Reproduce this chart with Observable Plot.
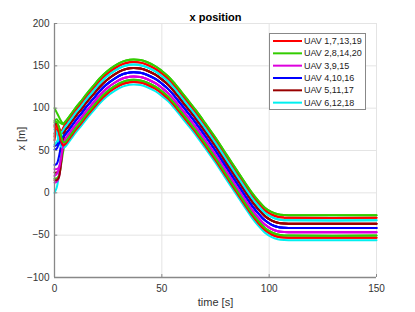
<!DOCTYPE html>
<html><head><meta charset="utf-8">
<script src="https://cdn.jsdelivr.net/npm/d3@7"></script>
<script src="https://cdn.jsdelivr.net/npm/@observablehq/plot@0.6"></script>
<style>
body{margin:0;background:#fff;font-family:"Liberation Sans",Arial,sans-serif}
#wrap{position:relative;width:415px;height:312px}
#legend{position:absolute;left:269px;top:33px}
</style>
</head><body><div id="wrap"></div>
<script>
// Legend groups and colours
const groups = ["UAV 1,7,13,19","UAV 2,8,14,20","UAV 3,9,15","UAV 4,10,16","UAV 5,11,17","UAV 6,12,18"];
const colors = ["#ff0000","#33cc00","#dd00dd","#0000ff","#990000","#00f0f0"];
// Ticks
const xTicks = [0,50,100,150];
const yTicks = [-100,-50,0,50,100,150,200];
// Shared trajectory (top line), t >= 5 s
const times = [5,6,8,10,12,15,18,21,24,28,32,35,37,40,43,47,50,53,56,59,62,66,70,75,79,83,86,89,92,95,98,101,104,107,110,150];
const base  = [84,87,94,101,107,117,126,135,142.5,150,155.3,157.2,157.5,156.8,154.5,149.5,144,137.5,129,119.5,110,97,83,65,49.5,34,22.5,11,0,-9.5,-17.5,-22.5,-25.3,-26.3,-26.5,-26.5];
// Per-UAV offset from the top line (UAV 1..20)
const offsets = [-3,0,-20,-15,-10,-6,-26.5,-24,-20,-15,-10,-29.5,-3,0,-20,-15,-10,-6,-26.5,-24];
// Initial transient, t = 0..4 s, per UAV
const transT = [0,1,2,3,4];
const transient = [
  [62,72,68,70,76],
  [100,95,90,85,82],
  [28,28,30,40,55],
  [55,57,62,66,66],
  [24,24,26,40,60],
  [0,6,20,45,68],
  [70,75,66,58,55],
  [17,17,20,32,48],
  [12,13,18,35,55],
  [33,34,42,55,65],
  [15,15,18,34,58],
  [75,72,60,55,53],
  [78,82,76,72,76],
  [85,87,84,82,81],
  [20,22,28,40,56],
  [51,52,58,62,66],
  [80,82,78,72,71],
  [57,60,65,70,74],
  [66,80,72,62,56],
  [83,84,78,68,60]
];
const title = "x position", xLabel = "time [s]", yLabel = "x [m]";

const rows = [];
offsets.forEach((off, i) => {
  const g = groups[i % 6];
  transT.forEach((t, k) => rows.push({uav: i + 1, group: g, t, x: transient[i][k]}));
  times.forEach((t, k) => rows.push({uav: i + 1, group: g, t, x: base[k] + off}));
});

const chart = Plot.plot({
  width: 415, height: 312,
  marginLeft: 54, marginRight: 39, marginTop: 23, marginBottom: 35,
  style: {fontFamily: '"Liberation Sans", Arial, sans-serif', fontSize: "10px", color: "#333", background: "#fff"},
  x: {domain: [0,150], ticks: xTicks, label: null},
  y: {domain: [-100,200], ticks: yTicks, label: null},
  color: {domain: groups, range: colors},
  marks: [
    Plot.gridX(xTicks, {stroke: "#e4e4e4", strokeOpacity: 1}),
    Plot.gridY(yTicks, {stroke: "#e4e4e4", strokeOpacity: 1}),
    Plot.line(rows, {x: "t", y: "x", z: "uav", stroke: "group", strokeWidth: 2, curve: "catmull-rom"}),
    Plot.ruleX([0], {stroke: "#888", strokeWidth: 1.3}),
    Plot.ruleY([-100], {stroke: "#888", strokeWidth: 1.3}),
    Plot.ruleY(yTicks, {x1: 0, x2: 1.5, stroke: "#888"}),
    Plot.ruleX(xTicks, {y1: -100, y2: -96.5, stroke: "#888"}),
    Plot.axisX({ticks: xTicks, tickSize: 0, tickPadding: 7, label: null}),
    Plot.axisY({ticks: yTicks, tickSize: 0, tickPadding: 5, label: null}),
    Plot.text([title], {frameAnchor: "top", dy: -10, fontWeight: "bold", fontSize: 11, fill: "#000"}),
    Plot.text([xLabel], {frameAnchor: "bottom", dy: 28, fontSize: 11}),
    Plot.text([yLabel], {frameAnchor: "left", dx: -33, rotate: -90, fontSize: 11})
  ]
});
const wrap = document.getElementById("wrap");
wrap.appendChild(chart);

// Legend box
const lw = 97, lh = 77;
const leg = d3.select(wrap).append("svg").attr("id", "legend").attr("width", lw).attr("height", lh);
leg.append("rect").attr("x", 0.5).attr("y", 0.5).attr("width", lw - 1).attr("height", lh - 1)
  .attr("fill", "#fff").attr("stroke", "#888").attr("stroke-width", 1);
groups.forEach((g, i) => {
  const cy = 8 + i * 12.33;
  leg.append("line").attr("x1", 4).attr("x2", 33).attr("y1", cy).attr("y2", cy)
    .attr("stroke", colors[i]).attr("stroke-width", 2);
  leg.append("text").attr("x", 35).attr("y", cy).attr("dy", "0.35em")
    .attr("font-size", 9).attr("fill", "#222")
    .attr("font-family", '"Liberation Sans", Arial, sans-serif').text(g);
});
</script>
</body></html>
